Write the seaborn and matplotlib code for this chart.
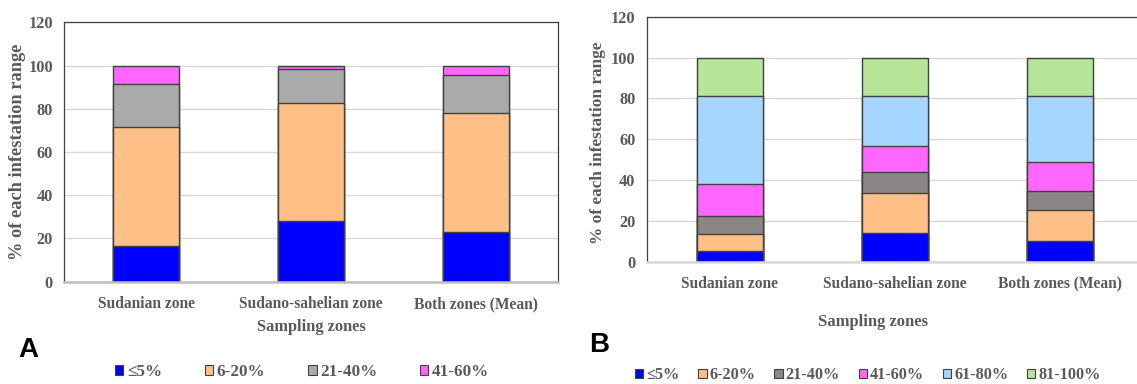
import matplotlib
matplotlib.use("Agg")
import matplotlib.pyplot as plt
import seaborn as sns
from matplotlib.patches import Patch

zones = ["Sudanian zone", "Sudano-sahelian zone", "Both zones (Mean)"]

# Panel A
a_le5 = [16.4, 28.1, 23.2]
a_6_20 = [55.0, 54.4, 54.7]
a_21_40 = [20.1, 16.1, 17.6]
a_41_60 = [8.5, 1.4, 4.5]
a_labels = ["≤5%", "6-20%", "21-40%", "41-60%"]
a_colors = ["#0000FF", "#FFBF87", "#AAAAAA", "#FF66FF"]

# Panel B
b_le5 = [5.4, 14.1, 10.3]
b_6_20 = [8.5, 19.6, 14.9]
b_21_40 = [8.6, 10.1, 9.3]
b_41_60 = [15.9, 13.1, 14.2]
b_61_80 = [42.8, 24.2, 32.4]
b_81_100 = [18.8, 18.9, 18.9]
b_labels = ["≤5%", "6-20%", "21-40%", "41-60%", "61-80%", "81-100%"]
b_colors = ["#0000FF", "#FFBF87", "#8B8685", "#FF66FF", "#A6D5FD", "#B6E597"]

yticks = [0, 20, 40, 60, 80, 100, 120]

sns.set_style("white")
plt.rcParams["font.family"] = ["Liberation Serif", "DejaVu Serif"]
plt.rcParams["font.weight"] = "bold"

TXT = "#595959"
EDGE = "#404040"

fig = plt.figure(figsize=(11.37, 3.84), dpi=100)
W, H = 1137.0, 384.0


def px_axes(l, r, t, b):
    return [l / W, 1 - b / H, (r - l) / W, (b - t) / H]


def stacked(ax, layers, colors):
    cums = []
    run = [0.0] * len(zones)
    for layer in layers:
        run = [r + v for r, v in zip(run, layer)]
        cums.append(list(run))
    for cum, c in reversed(list(zip(cums, colors))):
        sns.barplot(x=zones, y=cum, color=c, width=0.4, saturation=1,
                    edgecolor=EDGE, linewidth=1.0, ax=ax)
    ax.set_xlim(-0.5, 2.5)
    ax.set_ylim(0, 120)
    ax.set_yticks(yticks)
    ax.set_axisbelow(True)
    ax.yaxis.grid(True, color="#D9D9D9", linewidth=1.0)
    ax.tick_params(axis="both", length=0, colors=TXT)
    for lab in ax.get_xticklabels() + ax.get_yticklabels():
        lab.set_fontweight("bold")
        lab.set_color(TXT)


# ---------- Panel A ----------
axA = fig.add_axes(px_axes(64, 558, 22.3, 281.7))
stacked(axA, [a_le5, a_6_20, a_21_40, a_41_60], a_colors)
for s in ["left", "top", "right"]:
    axA.spines[s].set_color(EDGE)
    axA.spines[s].set_linewidth(0.9)
axA.spines["bottom"].set_color("#BFBFBF")
axA.spines["bottom"].set_linewidth(1.8)
axA.tick_params(axis="y", pad=8, labelsize=11.8)
axA.tick_params(axis="x", pad=10.5, labelsize=11.2)
axA.set_ylabel("% of each infestation range", fontsize=13.2, fontweight="bold", color=TXT)
axA.yaxis.set_label_coords((17.5 - 64) / 494, 0.5)
axA.yaxis.label.set_verticalalignment("center")
axA.set_xlabel("Sampling zones", fontsize=11.8, fontweight="bold", color=TXT)
axA.xaxis.set_label_coords((311 - 64) / 494, -(327 - 281.7) / 259.4)
axA.xaxis.label.set_verticalalignment("center")

fig.text(28 / W, 1 - 350 / H, "A", fontsize=20, fontweight="bold",
         family=["Liberation Sans", "DejaVu Sans"], ha="center", va="center", color="black")

handlesA = [Patch(facecolor=c, edgecolor=EDGE, linewidth=0.8) for c in a_colors]
fig.legend(handlesA, a_labels, loc="center", bbox_to_anchor=(302 / W, 1 - 372 / H),
           ncol=4, frameon=False, handlelength=0.5, handleheight=0.5,
           handletextpad=0.2, columnspacing=2.5, labelcolor=TXT,
           prop={"weight": "bold", "size": 12.3})

# ---------- Panel B ----------
axB = fig.add_axes(px_axes(647.3, 1142, 16.7, 262))
stacked(axB, [b_le5, b_6_20, b_21_40, b_41_60, b_61_80, b_81_100], b_colors)
for s in ["left", "top", "right"]:
    axB.spines[s].set_color(EDGE)
    axB.spines[s].set_linewidth(0.9)
axB.spines["bottom"].set_color("#D9D9D9")
axB.spines["bottom"].set_linewidth(1.8)
axB.tick_params(axis="y", pad=8.5, labelsize=11.8)
axB.tick_params(axis="x", pad=10, labelsize=11.2)
axB.set_ylabel("% of each infestation range", fontsize=12.4, fontweight="bold", color=TXT)
axB.yaxis.set_label_coords((597.5 - 647.3) / 494.7, (262 - 143) / 245.3)
axB.yaxis.label.set_verticalalignment("center")
axB.set_xlabel("Sampling zones", fontsize=12, fontweight="bold", color=TXT)
axB.xaxis.set_label_coords((873 - 647.3) / 494.7, -(322 - 262) / 245.3)
axB.xaxis.label.set_verticalalignment("center")

fig.text(599 / W, 1 - 345 / H, "B", fontsize=20, fontweight="bold",
         family=["Liberation Sans", "DejaVu Sans"], ha="center", va="center", color="black")

handlesB = [Patch(facecolor=c, edgecolor=EDGE, linewidth=0.8) for c in b_colors]
fig.legend(handlesB, b_labels, loc="center", bbox_to_anchor=(868 / W, 1 - 375 / H),
           ncol=6, frameon=False, handlelength=0.5, handleheight=0.5,
           handletextpad=0.2, columnspacing=1.15, labelcolor=TXT,
           prop={"weight": "bold", "size": 11.7})

fig.savefig("out.png", dpi=100)
